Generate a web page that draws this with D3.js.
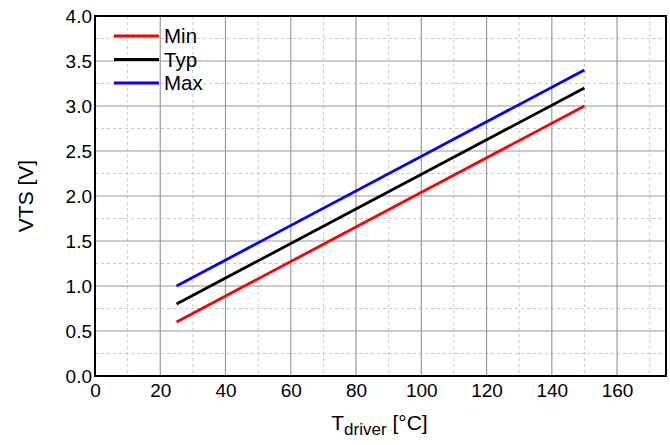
<!DOCTYPE html>
<html>
<head>
<meta charset="utf-8">
<script src="https://cdn.jsdelivr.net/npm/d3@7"></script>
<style>
  body { margin: 0; background: #fff; }
  text { font-family: "Liberation Sans", Arial, sans-serif; fill: #000; }
</style>
</head>
<body>
<svg></svg>
<script>
// temperature points (°C) and VTS values (V)
const temps = [25, 150]
const vtsMin = [0.6, 3.0]
const vtsTyp = [0.8, 3.2]
const vtsMax = [1.0, 3.4]
const seriesNames = ['Min', 'Typ', 'Max']
const xTicks = [0, 20, 40, 60, 80, 100, 120, 140, 160]
const yTicks = [0, 0.5, 1, 1.5, 2, 2.5, 3, 3.5, 4]

const svgWidth = 670, svgHeight = 445
const margin = { top: 16, right: 4, bottom: 69, left: 95 }
const width = svgWidth - margin.left - margin.right
const height = svgHeight - margin.top - margin.bottom

const colors = { Min: '#ff0000', Typ: '#000000', Max: '#0000ff' }

const series = [
    { name: 'Min', values: vtsMin },
    { name: 'Typ', values: vtsTyp },
    { name: 'Max', values: vtsMax }
].map(function (s) {
    return { name: s.name, points: temps.map(function (t, i) { return { t: t, v: s.values[i] } }) }
})

const svg = d3.select('svg')
    .attr('width', svgWidth)
    .attr('height', svgHeight)

const g = svg.append('g')
    .attr('transform', 'translate(' + margin.left + ',' + margin.top + ')')

const x = d3.scaleLinear().domain([0, 175]).range([0, width])
const y = d3.scaleLinear().domain([0, 4]).range([height, 0])

// minor grid (dashed)
const xMinor = d3.range(10, 175, 20)
const yMinor = d3.range(0.25, 4, 0.5)
g.selectAll('.xminor').data(xMinor).enter().append('line')
    .attr('x1', d => x(d)).attr('x2', d => x(d))
    .attr('y1', 0).attr('y2', height)
    .attr('stroke', '#c8c8c8').attr('stroke-dasharray', '3,3')
g.selectAll('.yminor').data(yMinor).enter().append('line')
    .attr('x1', 0).attr('x2', width)
    .attr('y1', d => y(d)).attr('y2', d => y(d))
    .attr('stroke', '#c8c8c8').attr('stroke-dasharray', '3,3')

// major grid
g.selectAll('.xmajor').data(xTicks.slice(1)).enter().append('line')
    .attr('x1', d => x(d)).attr('x2', d => x(d))
    .attr('y1', 0).attr('y2', height)
    .attr('stroke', '#9a9a9a').attr('stroke-width', 1.2)
g.selectAll('.ymajor').data(yTicks.slice(1)).enter().append('line')
    .attr('x1', 0).attr('x2', width)
    .attr('y1', d => y(d)).attr('y2', d => y(d))
    .attr('stroke', '#9a9a9a').attr('stroke-width', 1.2)

// axes
const xAxis = g.append('g')
    .attr('transform', 'translate(0,' + height + ')')
    .call(d3.axisBottom(x).tickValues(xTicks).tickSize(0).tickPadding(8).tickFormat(d3.format('d')))
xAxis.select('.domain').remove()
xAxis.selectAll('text').style('font-size', '19px')

const yAxis = g.append('g')
    .call(d3.axisLeft(y).tickValues(yTicks).tickSize(0).tickPadding(3).tickFormat(d3.format('.1f')))
yAxis.select('.domain').remove()
yAxis.selectAll('text').style('font-size', '19px')

// frame
g.append('rect')
    .attr('width', width).attr('height', height)
    .attr('fill', 'none').attr('stroke', '#000').attr('stroke-width', 2)

// lines
const line = d3.line()
    .x(d => x(d.t))
    .y(d => y(d.v))

g.selectAll('.series').data(series).enter().append('path')
    .attr('fill', 'none')
    .attr('stroke', d => colors[d.name])
    .attr('stroke-width', 2.8)
    .attr('d', d => line(d.points))

// legend
const legend = g.append('g').attr('transform', 'translate(19,20)')
seriesNames.forEach(function (n, i) {
    legend.append('line')
        .attr('x1', 0).attr('x2', 45)
        .attr('y1', i * 23.5).attr('y2', i * 23.5)
        .attr('stroke', colors[n]).attr('stroke-width', 2.8)
    legend.append('text')
        .attr('x', 50).attr('y', i * 23.5)
        .attr('dy', '0.35em')
        .style('font-size', '20.5px')
        .text(n)
})

// axis titles
svg.append('text')
    .attr('transform', 'translate(33,' + (margin.top + height / 2) + ') rotate(-90)')
    .attr('text-anchor', 'middle')
    .style('font-size', '21px')
    .text('VTS [V]')

const xt = svg.append('text')
    .attr('x', margin.left + width / 2 - 1)
    .attr('y', 430)
    .attr('text-anchor', 'middle')
    .style('font-size', '21px')
xt.append('tspan').text('T')
xt.append('tspan').attr('dy', 5).style('font-size', '17px').text('driver')
xt.append('tspan').attr('dy', -5).text(' [°C]')
</script>
</body>
</html>
